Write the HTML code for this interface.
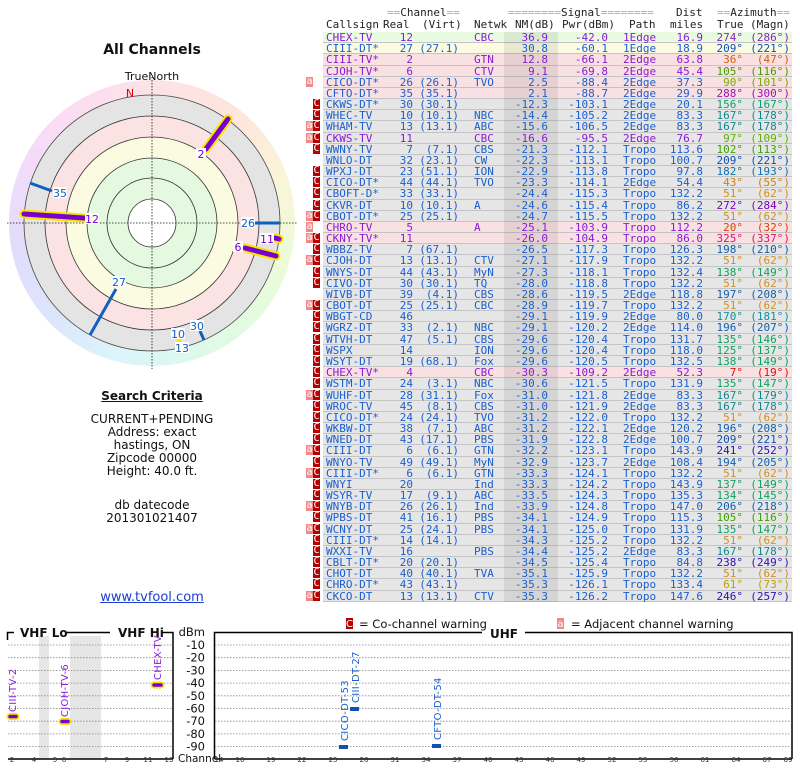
<!DOCTYPE html>
<html><head><meta charset="utf-8"><style>
*{margin:0;padding:0}
body{width:800px;height:768px;background:#fff;position:relative;overflow:hidden;font-family:"DejaVu Sans","Liberation Sans",sans-serif}
.mono{font-family:"DejaVu Sans Mono","Liberation Mono",monospace;font-size:11px}
#hd{position:absolute;left:0;top:0;width:800px;height:32px;color:#222}
#hd span{position:absolute;white-space:pre;line-height:11px}
.eq{color:#aaa}
#t{position:absolute;left:300px;top:32px;width:500px}
.r{position:relative;height:11.18px;line-height:11px;color:#1a5fd0}
.r:before{content:"";position:absolute;left:23px;width:469px;top:0;height:10.18px;background:#e6e6e6;border-bottom:1px solid #c4c4c4}
.r:after{content:"";position:absolute;left:204px;width:54px;top:0;height:11.18px;background:rgba(0,0,0,0.07)}
.r.gr:before{background:#e8fbe0}.r.y:before{background:#fbfbe2}.r.p:before{background:#f9e0e2}
.r.v{color:#8a1ad8}
.r b{position:absolute;font-weight:normal;white-space:pre;top:0;z-index:1}
.r b:nth-of-type(1){left:26px}
.r b:nth-of-type(2){left:80px;width:33px;text-align:right}
.r b:nth-of-type(3){left:109px;width:50px;text-align:right}
.r b:nth-of-type(4){left:174px}
.r b:nth-of-type(5){left:200px;width:48px;text-align:right}
.r b:nth-of-type(6){left:250px;width:58px;text-align:right}
.r b:nth-of-type(7){left:323px}
.r b:nth-of-type(8){left:353px;width:50px;text-align:right}
.r b:nth-of-type(9){left:400px;width:43px;text-align:right;color:var(--a)}
.r b:nth-of-type(10){left:440px;width:50px;text-align:right;color:var(--a)}
.r i{position:absolute;top:0;width:7px;height:10px;font-style:normal;color:#fff;font-size:10px;line-height:10px;text-align:center}
.r i.a{left:6px;background:#f08a8a}.r i.c{left:13px;background:#b80000}
.lt{position:absolute;left:0;width:304px;text-align:center;font-size:12px;color:#111}
</style></head><body>
<svg width="800" height="768" style="position:absolute;left:0;top:0" xmlns="http://www.w3.org/2000/svg">
<defs>
</defs>
</svg>
<div style="position:absolute;left:9px;top:80px;width:286px;height:286px;border-radius:50%;background:conic-gradient(from 0deg,#fde2e6,#fde6dc 40deg,#fbf4d8 70deg,#eefbd8 100deg,#e2fbe0 140deg,#dcf8f0 170deg,#dcf4fb 195deg,#dce6fb 225deg,#e2dcfb 260deg,#f0dcfb 290deg,#fbdcf4 320deg,#fde2e6 360deg)"></div>
<svg width="800" height="768" style="position:absolute;left:0;top:0" xmlns="http://www.w3.org/2000/svg" font-family="DejaVu Sans, Liberation Sans, sans-serif">
<g stroke="#333" stroke-width="0.8">
<circle cx="152" cy="223" r="128" fill="#e4e4e4" stroke="#444"/>
<circle cx="152" cy="223" r="107" fill="#fbe3e3"/>
<circle cx="152" cy="223" r="86" fill="#fbfbe2"/>
<circle cx="152" cy="223" r="65" fill="#e4f9e0"/>
<circle cx="152" cy="223" r="45" fill="#e4f9e0"/>
<circle cx="152" cy="223" r="24" fill="#fff"/>
</g>
<g stroke="#111" stroke-width="0.8" stroke-dasharray="1.5,1.5">
<line x1="7" y1="223" x2="297" y2="223"/><line x1="152" y1="77" x2="152" y2="369"/>
</g>
<text x="152" y="80" font-size="11" text-anchor="middle" fill="#111">TrueNorth</text>
<text x="130" y="97" font-size="11" text-anchor="middle" fill="#e00">N</text>
<g stroke-linecap="round">
<line x1="206" y1="149" x2="228" y2="119" stroke="#f5e600" stroke-width="9"/><line x1="206" y1="149" x2="228" y2="119" stroke="#7a00d0" stroke-width="5"/>
<line x1="84" y1="218" x2="24" y2="214" stroke="#f5e600" stroke-width="9"/><line x1="84" y1="218" x2="24" y2="214" stroke="#7a00d0" stroke-width="5"/>
<line x1="245" y1="248" x2="276" y2="256" stroke="#f5e600" stroke-width="9"/><line x1="245" y1="248" x2="276" y2="256" stroke="#7a00d0" stroke-width="5"/>
<line x1="275" y1="238" x2="279" y2="239" stroke="#f5e600" stroke-width="9"/><line x1="275" y1="238" x2="279" y2="239" stroke="#7a00d0" stroke-width="5"/>
<circle cx="179" cy="342" r="3" fill="#f5e600"/>
</g>
<g stroke="#1060c0" stroke-width="3">
<line x1="255" y1="223" x2="280" y2="223"/>
<line x1="52" y1="191" x2="30" y2="183"/>
<line x1="116" y1="289" x2="90" y2="335"/>
<line x1="200" y1="331" x2="204" y2="340"/>
</g>
<g font-size="11" text-anchor="middle">
<rect x="196" y="148" width="10" height="11" fill="#fff"/><text x="201" y="158" fill="#7a00d0">2</text>
<rect x="85" y="213" width="14" height="11" fill="#fff"/><text x="92" y="223" fill="#7a00d0">12</text>
<rect x="233" y="241" width="10" height="11" fill="#fff"/><text x="238" y="251" fill="#7a00d0">6</text>
<rect x="260" y="233" width="14" height="11" fill="#fff"/><text x="267" y="243" fill="#7a00d0">11</text>
<rect x="241" y="217" width="14" height="11" fill="#fff"/><text x="248" y="227" fill="#1060c0">26</text>
<rect x="53" y="187" width="14" height="11" fill="#fff"/><text x="60" y="197" fill="#1060c0">35</text>
<rect x="112" y="276" width="14" height="11" fill="#fff"/><text x="119" y="286" fill="#1060c0">27</text>
<rect x="190" y="320" width="14" height="11" fill="#fff"/><text x="197" y="330" fill="#1060c0">30</text>
<rect x="171" y="328" width="14" height="11" fill="#fff"/><text x="178" y="338" fill="#1060c0">10</text>
<rect x="175" y="342" width="14" height="11" fill="#fff"/><text x="182" y="352" fill="#1060c0">13</text>
</g>
<!-- bottom chart -->
<rect x="346" y="618" width="7" height="11" fill="#b80000"/><text x="349.5" y="627" font-size="10" fill="#fff" text-anchor="middle">C</text>
<text x="359" y="628" font-size="11.5" fill="#111">= Co-channel warning</text>
<rect x="557" y="618" width="7" height="11" fill="#f08a8a"/><text x="560.5" y="627" font-size="10" fill="#fff" text-anchor="middle">a</text>
<text x="571" y="628" font-size="11.5" fill="#111">= Adjacent channel warning</text>
<rect x="39" y="636" width="10" height="123" fill="#e6e6e6"/>
<rect x="70" y="636" width="31" height="123" fill="#e6e6e6"/>
<g stroke="#000" stroke-width="1.5" fill="none">
<path d="M7.5 640 V632.5 H14"/><path d="M65 632.5 H110"/><path d="M162 632.5 H173 V759"/>
<path d="M214.5 759 V632.5 H482"/><path d="M525 632.5 H792 V759"/>
</g>
<text x="20" y="637" font-size="12" font-weight="bold" fill="#111">VHF Lo</text>
<text x="118" y="637" font-size="12" font-weight="bold" fill="#111">VHF Hi</text>
<text x="490" y="638" font-size="12" font-weight="bold" fill="#111">UHF</text>
<g stroke="#888" stroke-width="0.8" stroke-dasharray="1.5,1.5">
<path d="M8 645H172M8 657.7H172M8 670.4H172M8 683.1H172M8 695.8H172M8 708.5H172M8 721.2H172M8 733.9H172M8 746.6H172"/>
<path d="M215 645H791M215 657.7H791M215 670.4H791M215 683.1H791M215 695.8H791M215 708.5H791M215 721.2H791M215 733.9H791M215 746.6H791"/>
</g>
<g font-size="11.5" fill="#111" text-anchor="end">
<text x="205" y="636">dBm</text>
<text x="205" y="649">-10</text><text x="205" y="661.7">-20</text><text x="205" y="674.4">-30</text><text x="205" y="687.1">-40</text><text x="205" y="699.8">-50</text><text x="205" y="712.5">-60</text><text x="205" y="725.2">-70</text><text x="205" y="737.9">-80</text><text x="205" y="750.6">-90</text>
</g>
<text x="178" y="762" font-size="10.5" fill="#111">Channel</text>
<line x1="8" y1="759" x2="173" y2="759" stroke="#000" stroke-width="1.5"/>
<line x1="215" y1="759" x2="792" y2="759" stroke="#000" stroke-width="1.5"/>
<g font-size="7" fill="#333" text-anchor="middle">
<rect x="8" y="755" width="165" height="9" fill="none"/>
<text x="12" y="762">2</text><text x="34" y="762">4</text><text x="55" y="762">5</text><text x="64" y="762">6</text><text x="106" y="762">7</text><text x="127" y="762">9</text><text x="148" y="762">11</text><text x="169" y="762">13</text>
<text x="219" y="762">14</text><text x="240" y="762">16</text><text x="271" y="762">19</text><text x="302" y="762">22</text><text x="333" y="762">25</text><text x="364" y="762">28</text><text x="395" y="762">31</text><text x="426" y="762">34</text><text x="457" y="762">37</text><text x="488" y="762">40</text><text x="519" y="762">43</text><text x="550" y="762">46</text><text x="581" y="762">49</text><text x="612" y="762">52</text><text x="643" y="762">55</text><text x="674" y="762">58</text><text x="705" y="762">61</text><text x="736" y="762">64</text><text x="767" y="762">67</text><text x="788" y="762">69</text>
</g>
<g stroke-linecap="round">
<line x1="10" y1="716.5" x2="16" y2="716.5" stroke="#f5e600" stroke-width="7"/><line x1="10" y1="716.5" x2="16" y2="716.5" stroke="#7a00d0" stroke-width="3.5"/>
<line x1="62" y1="721.5" x2="68" y2="721.5" stroke="#f5e600" stroke-width="7"/><line x1="62" y1="721.5" x2="68" y2="721.5" stroke="#7a00d0" stroke-width="3.5"/>
<line x1="154" y1="685" x2="161" y2="685" stroke="#f5e600" stroke-width="7"/><line x1="154" y1="685" x2="161" y2="685" stroke="#7a00d0" stroke-width="3.5"/>
</g>
<rect x="339" y="745" width="9" height="4" fill="#1050b0"/>
<rect x="350" y="707" width="9" height="4" fill="#1050b0"/>
<rect x="432" y="744" width="9" height="4" fill="#1050b0"/>
<g font-size="10" letter-spacing="0.3">
<text transform="translate(16,712) rotate(-90)" fill="#8a1ad8">CIII-TV-2</text>
<text transform="translate(68,717) rotate(-90)" fill="#8a1ad8">CJOH-TV-6</text>
<text transform="translate(161,680) rotate(-90)" fill="#8a1ad8">CHEX-TV</text>
<text transform="translate(348,741) rotate(-90)" fill="#1a5fd0">CICO-DT-53</text>
<text transform="translate(359,703) rotate(-90)" fill="#1a5fd0">CIII-DT-27</text>
<text transform="translate(441,740) rotate(-90)" fill="#1a5fd0">CFTO-DT-54</text>
</g>
</svg>

<div class="lt" style="top:42px;font-size:14px;font-weight:bold">All Channels</div>
<div class="lt" style="top:389px;font-weight:bold;text-decoration:underline">Search Criteria</div>
<div class="lt" style="top:413px;line-height:13px">CURRENT+PENDING<br>Address: exact<br>hastings, ON<br>Zipcode 00000<br>Height: 40.0 ft.</div>
<div class="lt" style="top:499px;line-height:13px">db datecode<br>201301021407</div>
<div class="lt" style="top:590px;font-size:13px;color:#1a3fd0;text-decoration:underline">www.tvfool.com</div>

<div id="hd" class="mono">
<span style="left:387px;top:7px"><span class="eq" style="position:static">==</span>Channel<span class="eq" style="position:static">==</span></span>
<span style="left:508px;top:7px"><span class="eq" style="position:static">========</span>Signal<span class="eq" style="position:static">========</span></span>
<span style="left:676px;top:7px">Dist</span>
<span style="left:717px;top:7px"><span class="eq" style="position:static">==</span>Azimuth<span class="eq" style="position:static">==</span></span>
<span style="left:326px;top:19px">Callsign</span>
<span style="left:383px;top:19px">Real</span>
<span style="left:422px;top:19px">(Virt)</span>
<span style="left:474px;top:19px">Netwk</span>
<span style="left:515px;top:19px">NM(dB)</span>
<span style="left:562px;top:19px">Pwr(dBm)</span>
<span style="left:629px;top:19px">Path</span>
<span style="left:670px;top:19px">miles</span>
<span style="left:717px;top:19px">True</span>
<span style="left:750px;top:19px">(Magn)</span>
</div>

<div id="t" class="mono">
<div class="r gr v" style="--a:#9020c0"><b>CHEX-TV</b><b>12</b><b></b><b>CBC</b><b>36.9</b><b>-42.0</b><b>1Edge</b><b>16.9</b><b>274°</b><b>(286°)</b></div>
<div class="r y" style="--a:#1050b0"><b>CIII-DT*</b><b>27</b><b>(27.1)</b><b></b><b>30.8</b><b>-60.1</b><b>1Edge</b><b>18.9</b><b>209°</b><b>(221°)</b></div>
<div class="r p v" style="--a:#d06010"><b>CIII-TV*</b><b>2</b><b></b><b>GTN</b><b>12.8</b><b>-66.1</b><b>2Edge</b><b>63.8</b><b>36°</b><b>(47°)</b></div>
<div class="r p v" style="--a:#40a000"><b>CJOH-TV*</b><b>6</b><b></b><b>CTV</b><b>9.1</b><b>-69.8</b><b>2Edge</b><b>45.4</b><b>105°</b><b>(116°)</b></div>
<div class="r p" style="--a:#80a800"><i class="a">a</i><b>CICO-DT*</b><b>26</b><b>(26.1)</b><b>TVO</b><b>2.5</b><b>-88.4</b><b>2Edge</b><b>37.3</b><b>90°</b><b>(101°)</b></div>
<div class="r p" style="--a:#a010b0"><b>CFTO-DT*</b><b>35</b><b>(35.1)</b><b></b><b>2.1</b><b>-88.7</b><b>2Edge</b><b>29.9</b><b>288°</b><b>(300°)</b></div>
<div class="r" style="--a:#10a070"><i class="c">C</i><b>CKWS-DT*</b><b>30</b><b>(30.1)</b><b></b><b>-12.3</b><b>-103.1</b><b>2Edge</b><b>20.1</b><b>156°</b><b>(167°)</b></div>
<div class="r" style="--a:#108890"><i class="c">C</i><b>WHEC-TV</b><b>10</b><b>(10.1)</b><b>NBC</b><b>-14.4</b><b>-105.2</b><b>2Edge</b><b>83.3</b><b>167°</b><b>(178°)</b></div>
<div class="r" style="--a:#108890"><i class="a">a</i><i class="c">C</i><b>WHAM-TV</b><b>13</b><b>(13.1)</b><b>ABC</b><b>-15.6</b><b>-106.5</b><b>2Edge</b><b>83.3</b><b>167°</b><b>(178°)</b></div>
<div class="r v" style="--a:#60b000"><i class="a">a</i><i class="c">C</i><b>CKWS-TV</b><b>11</b><b></b><b>CBC</b><b>-16.6</b><b>-95.5</b><b>2Edge</b><b>76.7</b><b>97°</b><b>(109°)</b></div>
<div class="r" style="--a:#40a000"><i class="c">C</i><b>WWNY-TV</b><b>7</b><b>(7.1)</b><b>CBS</b><b>-21.3</b><b>-112.1</b><b>Tropo</b><b>113.6</b><b>102°</b><b>(113°)</b></div>
<div class="r" style="--a:#1050b0"><b>WNLO-DT</b><b>32</b><b>(23.1)</b><b>CW</b><b>-22.3</b><b>-113.1</b><b>Tropo</b><b>100.7</b><b>209°</b><b>(221°)</b></div>
<div class="r" style="--a:#1070b0"><i class="c">C</i><b>WPXJ-DT</b><b>23</b><b>(51.1)</b><b>ION</b><b>-22.9</b><b>-113.8</b><b>Tropo</b><b>97.8</b><b>182°</b><b>(193°)</b></div>
<div class="r" style="--a:#d08010"><i class="c">C</i><b>CICO-DT*</b><b>44</b><b>(44.1)</b><b>TVO</b><b>-23.3</b><b>-114.1</b><b>2Edge</b><b>54.4</b><b>43°</b><b>(55°)</b></div>
<div class="r" style="--a:#d09020"><i class="c">C</i><b>CBOFT-D*</b><b>33</b><b>(33.1)</b><b></b><b>-24.4</b><b>-115.3</b><b>Tropo</b><b>132.2</b><b>51°</b><b>(62°)</b></div>
<div class="r" style="--a:#8000c0"><i class="c">C</i><b>CKVR-DT</b><b>10</b><b>(10.1)</b><b>A</b><b>-24.6</b><b>-115.4</b><b>Tropo</b><b>86.2</b><b>272°</b><b>(284°)</b></div>
<div class="r" style="--a:#d09020"><i class="a">a</i><i class="c">C</i><b>CBOT-DT*</b><b>25</b><b>(25.1)</b><b></b><b>-24.7</b><b>-115.5</b><b>Tropo</b><b>132.2</b><b>51°</b><b>(62°)</b></div>
<div class="r p v" style="--a:#e04000"><i class="a">a</i><b>CHRO-TV</b><b>5</b><b></b><b>A</b><b>-25.1</b><b>-103.9</b><b>Tropo</b><b>112.2</b><b>20°</b><b>(32°)</b></div>
<div class="r p v" style="--a:#e0106a"><i class="a">a</i><i class="c">C</i><b>CKNY-TV*</b><b>11</b><b></b><b></b><b>-26.0</b><b>-104.9</b><b>Tropo</b><b>86.0</b><b>325°</b><b>(337°)</b></div>
<div class="r" style="--a:#1060b0"><i class="c">C</i><b>WBBZ-TV</b><b>7</b><b>(67.1)</b><b></b><b>-26.5</b><b>-117.3</b><b>Tropo</b><b>126.3</b><b>198°</b><b>(210°)</b></div>
<div class="r" style="--a:#d09020"><i class="a">a</i><i class="c">C</i><b>CJOH-DT</b><b>13</b><b>(13.1)</b><b>CTV</b><b>-27.1</b><b>-117.9</b><b>Tropo</b><b>132.2</b><b>51°</b><b>(62°)</b></div>
<div class="r" style="--a:#10a060"><i class="c">C</i><b>WNYS-DT</b><b>44</b><b>(43.1)</b><b>MyN</b><b>-27.3</b><b>-118.1</b><b>Tropo</b><b>132.4</b><b>138°</b><b>(149°)</b></div>
<div class="r" style="--a:#d09020"><i class="c">C</i><b>CIVO-DT</b><b>30</b><b>(30.1)</b><b>TQ</b><b>-28.0</b><b>-118.8</b><b>Tropo</b><b>132.2</b><b>51°</b><b>(62°)</b></div>
<div class="r" style="--a:#1060b0"><b>WIVB-DT</b><b>39</b><b>(4.1)</b><b>CBS</b><b>-28.6</b><b>-119.5</b><b>2Edge</b><b>118.8</b><b>197°</b><b>(208°)</b></div>
<div class="r" style="--a:#d09020"><i class="a">a</i><i class="c">C</i><b>CBOT-DT</b><b>25</b><b>(25.1)</b><b>CBC</b><b>-28.9</b><b>-119.7</b><b>Tropo</b><b>132.2</b><b>51°</b><b>(62°)</b></div>
<div class="r" style="--a:#1090a0"><i class="c">C</i><b>WBGT-CD</b><b>46</b><b></b><b></b><b>-29.1</b><b>-119.9</b><b>2Edge</b><b>80.0</b><b>170°</b><b>(181°)</b></div>
<div class="r" style="--a:#1060b0"><i class="c">C</i><b>WGRZ-DT</b><b>33</b><b>(2.1)</b><b>NBC</b><b>-29.1</b><b>-120.2</b><b>2Edge</b><b>114.0</b><b>196°</b><b>(207°)</b></div>
<div class="r" style="--a:#10a060"><i class="c">C</i><b>WTVH-DT</b><b>47</b><b>(5.1)</b><b>CBS</b><b>-29.6</b><b>-120.4</b><b>Tropo</b><b>131.7</b><b>135°</b><b>(146°)</b></div>
<div class="r" style="--a:#10a060"><i class="c">C</i><b>WSPX</b><b>14</b><b></b><b>ION</b><b>-29.6</b><b>-120.4</b><b>Tropo</b><b>118.0</b><b>125°</b><b>(137°)</b></div>
<div class="r" style="--a:#10a060"><i class="c">C</i><b>WSYT-DT</b><b>19</b><b>(68.1)</b><b>Fox</b><b>-29.6</b><b>-120.5</b><b>Tropo</b><b>132.5</b><b>138°</b><b>(149°)</b></div>
<div class="r p v" style="--a:#e01010"><i class="c">C</i><b>CHEX-TV*</b><b>4</b><b></b><b>CBC</b><b>-30.3</b><b>-109.2</b><b>2Edge</b><b>52.3</b><b>7°</b><b>(19°)</b></div>
<div class="r" style="--a:#10a060"><i class="c">C</i><b>WSTM-DT</b><b>24</b><b>(3.1)</b><b>NBC</b><b>-30.6</b><b>-121.5</b><b>Tropo</b><b>131.9</b><b>135°</b><b>(147°)</b></div>
<div class="r" style="--a:#108890"><i class="a">a</i><i class="c">C</i><b>WUHF-DT</b><b>28</b><b>(31.1)</b><b>Fox</b><b>-31.0</b><b>-121.8</b><b>2Edge</b><b>83.3</b><b>167°</b><b>(179°)</b></div>
<div class="r" style="--a:#108890"><i class="c">C</i><b>WROC-TV</b><b>45</b><b>(8.1)</b><b>CBS</b><b>-31.0</b><b>-121.9</b><b>2Edge</b><b>83.3</b><b>167°</b><b>(178°)</b></div>
<div class="r" style="--a:#d09020"><i class="c">C</i><b>CICO-DT*</b><b>24</b><b>(24.1)</b><b>TVO</b><b>-31.2</b><b>-122.0</b><b>Tropo</b><b>132.2</b><b>51°</b><b>(62°)</b></div>
<div class="r" style="--a:#1060b0"><i class="c">C</i><b>WKBW-DT</b><b>38</b><b>(7.1)</b><b>ABC</b><b>-31.2</b><b>-122.1</b><b>2Edge</b><b>120.2</b><b>196°</b><b>(208°)</b></div>
<div class="r" style="--a:#1050b0"><i class="c">C</i><b>WNED-DT</b><b>43</b><b>(17.1)</b><b>PBS</b><b>-31.9</b><b>-122.8</b><b>2Edge</b><b>100.7</b><b>209°</b><b>(221°)</b></div>
<div class="r" style="--a:#3010b0"><i class="a">a</i><i class="c">C</i><b>CIII-DT</b><b>6</b><b>(6.1)</b><b>GTN</b><b>-32.2</b><b>-123.1</b><b>Tropo</b><b>143.9</b><b>241°</b><b>(252°)</b></div>
<div class="r" style="--a:#1060b0"><i class="c">C</i><b>WNYO-TV</b><b>49</b><b>(49.1)</b><b>MyN</b><b>-32.9</b><b>-123.7</b><b>2Edge</b><b>108.4</b><b>194°</b><b>(205°)</b></div>
<div class="r" style="--a:#d09020"><i class="a">a</i><i class="c">C</i><b>CIII-DT*</b><b>6</b><b>(6.1)</b><b>GTN</b><b>-33.3</b><b>-124.1</b><b>Tropo</b><b>132.2</b><b>51°</b><b>(62°)</b></div>
<div class="r" style="--a:#10a060"><i class="c">C</i><b>WNYI</b><b>20</b><b></b><b>Ind</b><b>-33.3</b><b>-124.2</b><b>Tropo</b><b>143.9</b><b>137°</b><b>(149°)</b></div>
<div class="r" style="--a:#10a060"><i class="c">C</i><b>WSYR-TV</b><b>17</b><b>(9.1)</b><b>ABC</b><b>-33.5</b><b>-124.3</b><b>Tropo</b><b>135.3</b><b>134°</b><b>(145°)</b></div>
<div class="r" style="--a:#1060b0"><i class="a">a</i><i class="c">C</i><b>WNYB-DT</b><b>26</b><b>(26.1)</b><b>Ind</b><b>-33.9</b><b>-124.8</b><b>Tropo</b><b>147.0</b><b>206°</b><b>(218°)</b></div>
<div class="r" style="--a:#40a000"><i class="c">C</i><b>WPBS-DT</b><b>41</b><b>(16.1)</b><b>PBS</b><b>-34.1</b><b>-124.9</b><b>Tropo</b><b>115.3</b><b>105°</b><b>(116°)</b></div>
<div class="r" style="--a:#10a060"><i class="a">a</i><i class="c">C</i><b>WCNY-DT</b><b>25</b><b>(24.1)</b><b>PBS</b><b>-34.1</b><b>-125.0</b><b>Tropo</b><b>131.9</b><b>135°</b><b>(147°)</b></div>
<div class="r" style="--a:#d09020"><i class="c">C</i><b>CIII-DT*</b><b>14</b><b>(14.1)</b><b></b><b>-34.3</b><b>-125.2</b><b>Tropo</b><b>132.2</b><b>51°</b><b>(62°)</b></div>
<div class="r" style="--a:#108890"><i class="c">C</i><b>WXXI-TV</b><b>16</b><b></b><b>PBS</b><b>-34.4</b><b>-125.2</b><b>2Edge</b><b>83.3</b><b>167°</b><b>(178°)</b></div>
<div class="r" style="--a:#3010b0"><i class="c">C</i><b>CBLT-DT*</b><b>20</b><b>(20.1)</b><b></b><b>-34.5</b><b>-125.4</b><b>Tropo</b><b>84.8</b><b>238°</b><b>(249°)</b></div>
<div class="r" style="--a:#d09020"><i class="c">C</i><b>CHOT-DT</b><b>40</b><b>(40.1)</b><b>TVA</b><b>-35.1</b><b>-125.9</b><b>Tropo</b><b>132.2</b><b>51°</b><b>(62°)</b></div>
<div class="r" style="--a:#c0a000"><i class="c">C</i><b>CHRO-DT*</b><b>43</b><b>(43.1)</b><b></b><b>-35.3</b><b>-126.1</b><b>Tropo</b><b>133.4</b><b>61°</b><b>(73°)</b></div>
<div class="r" style="--a:#3010b0"><i class="a">a</i><i class="c">C</i><b>CKCO-DT</b><b>13</b><b>(13.1)</b><b>CTV</b><b>-35.3</b><b>-126.2</b><b>Tropo</b><b>147.6</b><b>246°</b><b>(257°)</b></div>
</div>
</body></html>
